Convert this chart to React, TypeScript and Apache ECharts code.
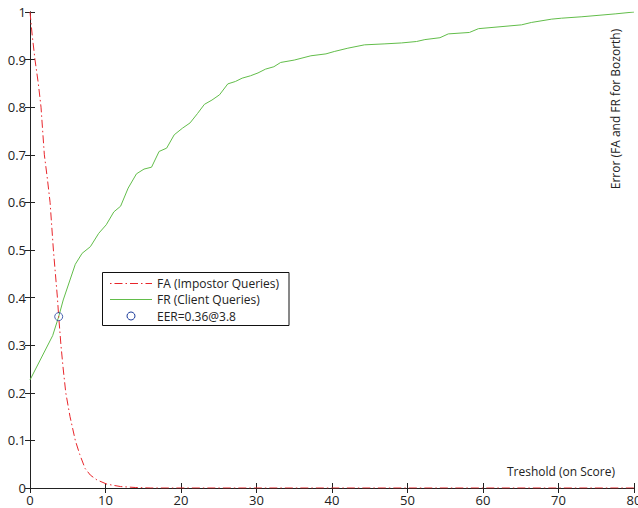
import React, { useEffect, useRef } from "react";
import * as echarts from "echarts";

const faX = [0, 0.3, 0.66, 1.1, 1.46, 1.9, 2.3, 2.66, 3.1, 3.63, 3.8, 4.1, 4.4, 4.74, 5.3, 6.0, 6.6, 7.3, 8.0, 8.86, 10.2, 12, 14, 16, 80];
const faY = [1, 0.95, 0.9, 0.85, 0.8, 0.7, 0.65, 0.6, 0.5, 0.4, 0.36, 0.3, 0.25, 0.2, 0.15, 0.1, 0.07, 0.041, 0.027, 0.017, 0.008, 0.003, 0.001, 0, 0];

const frX = [0, 3.0, 3.8, 4.4, 6.0, 6.9, 8.0, 9.1, 10.1, 11.1, 12.0, 13.0, 14.1, 15.1, 16.1, 17.1, 18.1, 19.1, 20.2, 21.2, 22.2, 23.1, 24.1, 25.1, 26.2, 27.2, 28.1, 29.2, 30.2, 31.2, 32.3, 33.2, 35.0, 37.2, 39.2, 40.3, 42.1, 44.3, 46.9, 49.2, 51.2, 52.3, 54.3, 55.4, 58.2, 59.4, 65.1, 66.4, 69.1, 70.4, 73.1, 77.5, 80];
const frY = [0.227, 0.32, 0.36, 0.395, 0.47, 0.493, 0.507, 0.535, 0.553, 0.58, 0.592, 0.63, 0.66, 0.67, 0.674, 0.707, 0.714, 0.742, 0.756, 0.767, 0.787, 0.806, 0.815, 0.826, 0.849, 0.854, 0.861, 0.866, 0.872, 0.88, 0.885, 0.894, 0.899, 0.908, 0.912, 0.917, 0.924, 0.931, 0.933, 0.935, 0.938, 0.942, 0.946, 0.954, 0.957, 0.965, 0.973, 0.978, 0.985, 0.987, 0.99, 0.996, 1.0];

const eerX = 3.8;
const eerY = 0.36;

const legendLabels = ["FA (Impostor Queries)", "FR (Client Queries)", "EER=0.36@3.8"];
const xTitle = "Treshold (on Score)";
const yTitle = "Error (FA and FR for Bozorth)";

const FONT = "Open Sans";
const TXT = "#222";
const RED = "#e8262b";
const GREEN = "#62bd4a";
const BLUE = "#1c3c9c";

export default function App() {
  const ref = useRef<HTMLDivElement>(null);
  useEffect(() => {
    if (!ref.current) return;
    const chart = echarts.init(ref.current, null, { renderer: "svg" });
    const axisLine = { show: true, lineStyle: { color: "#222", width: 1 } };
    const tick = { show: true, inside: true, length: 5, lineStyle: { color: "#222", width: 1 } };
    chart.setOption({
      animation: false,
      backgroundColor: "#fff",
      grid: { left: 30, top: 12, right: 4, bottom: 20, containLabel: false, outerBoundsMode: "none" },
      xAxis: [
        {
          type: "value", min: 0, max: 80, interval: 10, position: "bottom",
          axisLine, axisTick: tick, splitLine: { show: false },
          axisLabel: { color: TXT, fontFamily: FONT, fontSize: 13, margin: 5 },
        },
        {
          type: "value", min: 0, max: 80, interval: 10, position: "top",
          axisLine, axisTick: tick, splitLine: { show: false }, axisLabel: { show: false },
        },
      ],
      yAxis: [
        {
          type: "value", min: 0, max: 1, interval: 0.1, position: "left",
          axisLine, axisTick: tick, splitLine: { show: false },
          axisLabel: { color: TXT, fontFamily: FONT, fontSize: 13, margin: 4 },
        },
        {
          type: "value", min: 0, max: 1, interval: 0.1, position: "right",
          axisLine, axisTick: tick, splitLine: { show: false }, axisLabel: { show: false },
        },
      ],
      series: [
        {
          name: legendLabels[0], type: "line", symbol: "none",
          data: faX.map((x, i) => [x, faY[i]]),
          lineStyle: { color: RED, width: 1, type: [8, 3, 1.5, 3] },
          z: 3,
        },
        {
          name: legendLabels[1], type: "line", symbol: "none",
          data: frX.map((x, i) => [x, frY[i]]),
          lineStyle: { color: GREEN, width: 1 },
          z: 2,
        },
        {
          name: legendLabels[2], type: "scatter", symbol: "circle", symbolSize: 8,
          data: [[eerX, eerY]],
          itemStyle: { color: "rgba(0,0,0,0)", borderColor: BLUE, borderWidth: 1 },
          z: 4,
        },
      ],
      graphic: [
        {
          type: "rect", shape: { x: 102.5, y: 272.5, width: 186.5, height: 53 },
          style: { fill: "#fff", stroke: "#111", lineWidth: 1 }, z: 10,
        },
        {
          type: "line", shape: { x1: 110, y1: 283.5, x2: 152, y2: 283.5 },
          style: { stroke: RED, lineWidth: 1, lineDash: [1.5, 3, 8, 3] }, z: 11,
        },
        {
          type: "line", shape: { x1: 110, y1: 299.5, x2: 152, y2: 299.5 },
          style: { stroke: GREEN, lineWidth: 1 }, z: 11,
        },
        {
          type: "circle", shape: { cx: 131, cy: 316, r: 4 },
          style: { fill: "none", stroke: BLUE, lineWidth: 1 }, z: 11,
        },
        ...legendLabels.map((t, i) => ({
          type: "text", x: 157, y: 283.5 + i * 16.3, z: 11,
          style: { text: t, fill: TXT, font: `12px "${FONT}"`, textVerticalAlign: "middle", textAlign: "left" },
        })),
        {
          type: "text", x: 561, y: 471, z: 11,
          style: { text: xTitle, fill: TXT, font: `12px "${FONT}"`, textAlign: "center", textVerticalAlign: "middle" },
        },
        {
          type: "text", x: 615, y: 109, rotation: Math.PI / 2, z: 11,
          style: { text: yTitle, fill: TXT, font: `12px "${FONT}"`, textAlign: "center", textVerticalAlign: "middle" },
        },
      ],
    });
    return () => chart.dispose();
  }, []);
  return (
    <div
      ref={ref}
      style={{ position: "absolute", left: 0, top: 0, width: 638, height: 508 }}
    />
  );
}
